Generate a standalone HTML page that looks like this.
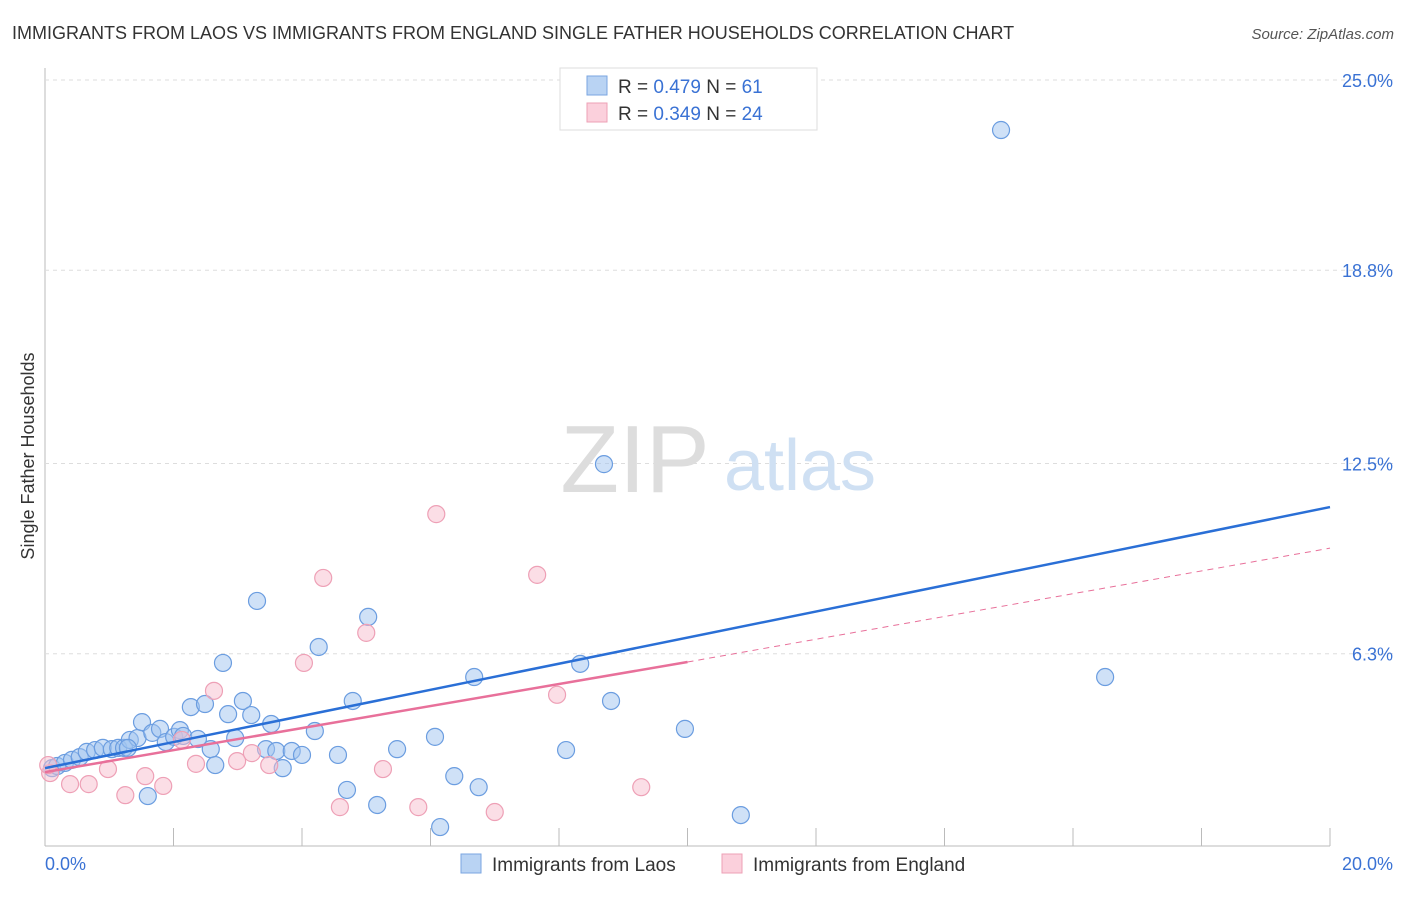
<!DOCTYPE html>
<html><head><meta charset="utf-8"><style>
body{margin:0;background:#fff;font-family:"Liberation Sans",sans-serif;}
svg text{font-family:"Liberation Sans",sans-serif;}
</style></head><body>
<svg width="1406" height="892">
<text x="12" y="39" font-size="18" fill="#333">IMMIGRANTS FROM LAOS VS IMMIGRANTS FROM ENGLAND SINGLE FATHER HOUSEHOLDS CORRELATION CHART</text>
<text x="1394" y="39" font-size="15" fill="#555" font-style="italic" text-anchor="end">Source: ZipAtlas.com</text>
<g id="grid"></g>
<text x="635" y="492" font-size="96" fill="#ddd" font-family="Liberation Serif" text-anchor="middle">ZIP</text>
<text x="800" y="490" font-size="72" fill="#cfe0f3" text-anchor="middle">atlas</text>
<g id="pts"></g>
<g id="lines"></g>
<text transform="translate(34,456) rotate(-90)" font-size="18" fill="#333" text-anchor="middle">Single Father Households</text>
<text x="45" y="870" font-size="18" fill="#3a72d4">0.0%</text>
<text x="1393" y="870" font-size="18" fill="#3a72d4" text-anchor="end">20.0%</text>
<g>
<rect x="560" y="68" width="257" height="62" fill="#fff" stroke="#ddd"/>
<rect x="587" y="76" width="20" height="19" fill="#b9d3f3" stroke="#7aa6e0"/>
<rect x="587" y="103" width="20" height="19" fill="#fbd0dc" stroke="#eea0b6"/>
<text x="618" y="93" font-size="19" fill="#333">R = <tspan fill="#3a72d4">0.479</tspan>   N =  <tspan fill="#3a72d4">61</tspan></text>
<text x="618" y="120" font-size="19" fill="#333">R = <tspan fill="#3a72d4">0.349</tspan>   N = <tspan fill="#3a72d4">24</tspan></text>
</g>
<g>
<rect x="461" y="854" width="20" height="19" fill="#b9d3f3" stroke="#7aa6e0"/>
<text x="492" y="871" font-size="19" fill="#333">Immigrants from Laos</text>
<rect x="722" y="854" width="20" height="19" fill="#fbd0dc" stroke="#eea0b6"/>
<text x="753" y="871" font-size="19" fill="#333">Immigrants from England</text>
</g>
</svg>
<script>
const yTicks=[6.3,12.5,18.8,25.0];
const yTickLabels=["6.3%","12.5%","18.8%","25.0%"];
const xTicks=[2,4,6,8,10,12,14,16,18,20];
const laosX=[0.11,0.19,0.31,0.42,0.54,0.65,0.78,0.90,1.04,1.14,1.23,1.32,1.44,1.51,1.67,1.79,1.88,2.01,2.10,2.15,2.27,2.38,2.49,2.58,2.65,2.77,2.85,2.96,3.08,3.21,3.30,3.44,3.52,3.60,3.70,3.84,4.00,4.20,4.26,4.56,4.70,4.79,5.03,5.17,5.48,6.07,6.15,6.37,6.68,6.75,8.11,8.33,8.70,8.81,9.96,10.83,14.88,16.50,1.60,1.29];
const laosY=[2.57,2.64,2.74,2.84,2.93,3.10,3.16,3.23,3.19,3.23,3.23,3.49,3.55,4.07,3.72,3.85,3.42,3.59,3.81,3.62,4.56,3.52,4.66,3.19,2.67,6.00,4.33,3.55,4.76,4.30,8.02,3.19,4.01,3.13,2.57,3.13,3.00,3.78,6.52,3.00,1.86,4.76,7.50,1.37,3.19,3.59,0.65,2.31,5.54,1.95,3.16,5.97,12.48,4.76,3.85,1.04,23.37,5.54,1.66,3.23];
const engX=[0.08,0.05,0.39,0.68,0.98,1.25,1.56,1.84,2.13,2.35,2.63,2.99,3.22,3.49,4.03,4.33,4.59,5.00,5.26,5.81,6.09,7.00,7.66,7.97,9.28];
const engY=[2.41,2.67,2.05,2.05,2.54,1.69,2.31,1.99,3.49,2.71,5.09,2.80,3.06,2.67,6.00,8.77,1.30,6.98,2.54,1.30,10.85,1.14,8.87,4.96,1.95];
const laosTrend=[2.57,11.08];
const engTrendStart=2.44, engTrendMid=6.03, engTrendEnd=9.74, engSolidEndX=10;
const X=v=>45+v/20*1285, Y=v=>847-v/25*767;
const NS="http://www.w3.org/2000/svg";
function mk(p,t,a){const e=document.createElementNS(NS,t);for(const k in a)e.setAttribute(k,a[k]);p.appendChild(e);return e;}
const g=document.getElementById('grid');
let ax=mk(g,'line',{x1:45,y1:68,x2:45,y2:846,stroke:'#bbb'});


let bx=mk(g,'line',{x1:45,y1:846,x2:1330,y2:846,stroke:'#bbb'});


yTicks.forEach((v,i)=>{
 const l=mk(g,'line',{x1:45,y1:Y(v),x2:1393,y2:Y(v),stroke:'#ddd','stroke-dasharray':'4,4'});
 
 
 const t=mk(g,'text',{x:1393,y:Y(v)+7,'font-size':18,fill:'#3a72d4','text-anchor':'end'});
 t.textContent=yTickLabels[i];
 
 
});
xTicks.forEach(v=>{
 const l=mk(g,'line',{x1:X(v),y1:828,x2:X(v),y2:846,stroke:'#bbb'});
 
 
});
const p=document.getElementById('pts');
laosX.forEach((v,i)=>{
 const c=mk(p,'circle',{cx:X(v),cy:Y(laosY[i]),r:8.5,fill:'rgba(160,196,240,0.5)',stroke:'#6b9de0','stroke-width':1.2});
 
 
});
engX.forEach((v,i)=>{
 const c=mk(p,'circle',{cx:X(v),cy:Y(engY[i]),r:8.5,fill:'rgba(248,190,206,0.5)',stroke:'#eea0b6','stroke-width':1.2});
 
 
});
const L=document.getElementById('lines');
let a=mk(L,'line',{x1:X(0),y1:Y(laosTrend[0]),x2:X(20),y2:Y(laosTrend[1]),stroke:'#2a6fd6','stroke-width':2.5});


let b=mk(L,'line',{x1:X(0),y1:Y(engTrendStart),x2:X(engSolidEndX),y2:Y(engTrendMid),stroke:'#e8709a','stroke-width':2.5});


let c=mk(L,'line',{x1:X(engSolidEndX),y1:Y(engTrendMid),x2:X(20),y2:Y(engTrendEnd),stroke:'#e8709a','stroke-width':1,'stroke-dasharray':'6,5'});


</script>
</body></html>
